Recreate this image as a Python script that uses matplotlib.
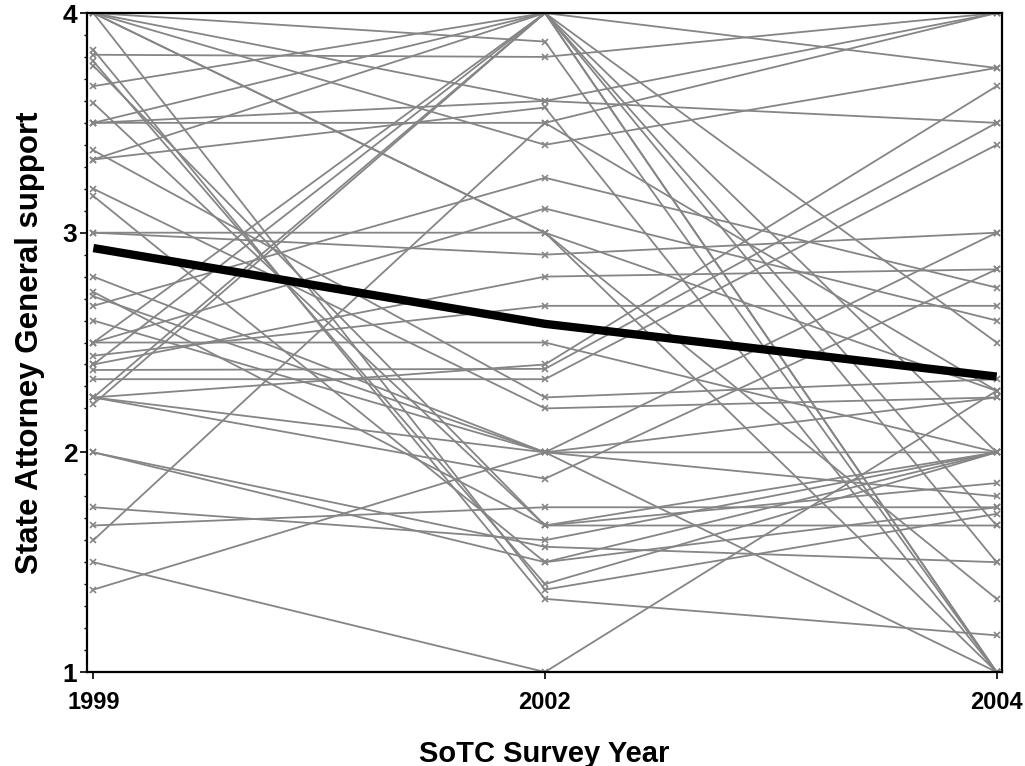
import matplotlib

matplotlib.use("Agg")
import matplotlib.pyplot as plt
from matplotlib.ticker import MultipleLocator

OUT_PATH = "out.png"

YEARS = ["1999", "2002", "2004"]

# one entry per state, same order in every wave
support_1999 = [
    4.0, 4.0, 4.0, 4.0, 4.0, 4.0, 3.833, 3.81, 3.78, 3.76,
    3.667, 3.59, 3.5, 3.5, 3.5, 3.375, 3.333, 3.333, 3.2, 3.167,
    3.0, 3.0, 2.8, 2.73, 2.71, 2.667, 2.6, 2.5, 2.5, 2.5,
    2.44, 2.4, 2.4, 2.375, 2.333, 2.25, 2.25, 2.25, 2.25, 2.22,
    2.0, 2.0, 1.75, 1.667, 1.6, 1.5, 1.375,
]
support_2002 = [
    3.87, 3.6, 3.4, 1.375, 3.0, 3.0, 1.333, 3.8, 1.4, 1.667,
    4.0, 1.667, 3.6, 3.5, 4.0, 2.25, 4.0, 3.57, 2.2, 1.5,
    3.0, 2.9, 2.0, 1.667, 2.0, 3.25, 2.0, 4.0, 3.11, 2.5,
    2.667, 4.0, 2.8, 2.38, 2.333, 4.0, 2.4, 1.88, 2.0, 4.0,
    1.57, 1.5, 1.6, 1.75, 3.5, 1.0, 2.0,
]
support_2004 = [
    1.0, 4.0, 3.75, 1.72, 2.28, 1.333, 1.167, 4.0, 2.0, 1.86,
    1.0, 2.0, 3.5, 2.28, 3.75, 2.333, 1.0, 1.0, 2.25, 1.75,
    1.0, 3.0, 1.8, 1.667, 2.25, 2.75, 1.0, 2.5, 2.6, 2.0,
    2.667, 1.5, 2.833, 3.5, 3.4, 2.0, 3.667, 2.833, 3.0, 1.667,
    1.5, 2.0, 2.0, 1.75, 4.0, 2.28, 2.0,
]

# overall mean per wave
mean_support = [2.93, 2.585, 2.345]

GRAY = "#858585"


def main() -> None:
    plt.rcParams["font.family"] = ["Liberation Sans", "DejaVu Sans"]
    plt.rcParams["font.weight"] = "bold"

    fig = plt.figure(figsize=(10.25, 7.66), dpi=100)
    ax = fig.add_axes([0.0849, 0.1227, 0.9776 - 0.0849, 0.983 - 0.1227])

    x = list(range(len(YEARS)))
    for a, b, c in zip(support_1999, support_2002, support_2004):
        ax.plot(
            x, [a, b, c],
            color=GRAY, linewidth=1.3,
            marker="x", markersize=5, markeredgewidth=1.2,
        )

    ax.plot(x, mean_support, color="black", linewidth=6, solid_capstyle="butt",
            solid_joinstyle="round", zorder=5)

    ax.set_xlim(-0.014, 2.012)
    ax.set_ylim(1, 4)
    ax.set_xticks(x)
    ax.set_xticklabels(YEARS)
    ax.set_yticks([1, 2, 3, 4])
    ax.yaxis.set_minor_locator(MultipleLocator(0.1))

    ax.tick_params(axis="both", which="major", width=1.2, length=5,
                   color="black", pad=3)
    ax.tick_params(axis="y", which="minor", width=1.0, length=2.5)
    ax.tick_params(axis="x", pad=9, labelsize=17)
    ax.tick_params(axis="y", labelsize=19, pad=2)
    for lab in ax.get_xticklabels() + ax.get_yticklabels():
        lab.set_fontweight("bold")

    for spine in ax.spines.values():
        spine.set_linewidth(1.6)
        spine.set_color("black")

    ax.set_xlabel("SoTC Survey Year", fontsize=21, fontweight="bold")
    ax.set_ylabel("State Attorney General support", fontsize=22.5, fontweight="bold")
    ax.xaxis.set_label_coords(0.5, -0.103)
    ax.yaxis.set_label_coords(-0.046, 0.5)

    fig.savefig(OUT_PATH, dpi=100)
    plt.close(fig)


if __name__ == "__main__":
    main()
